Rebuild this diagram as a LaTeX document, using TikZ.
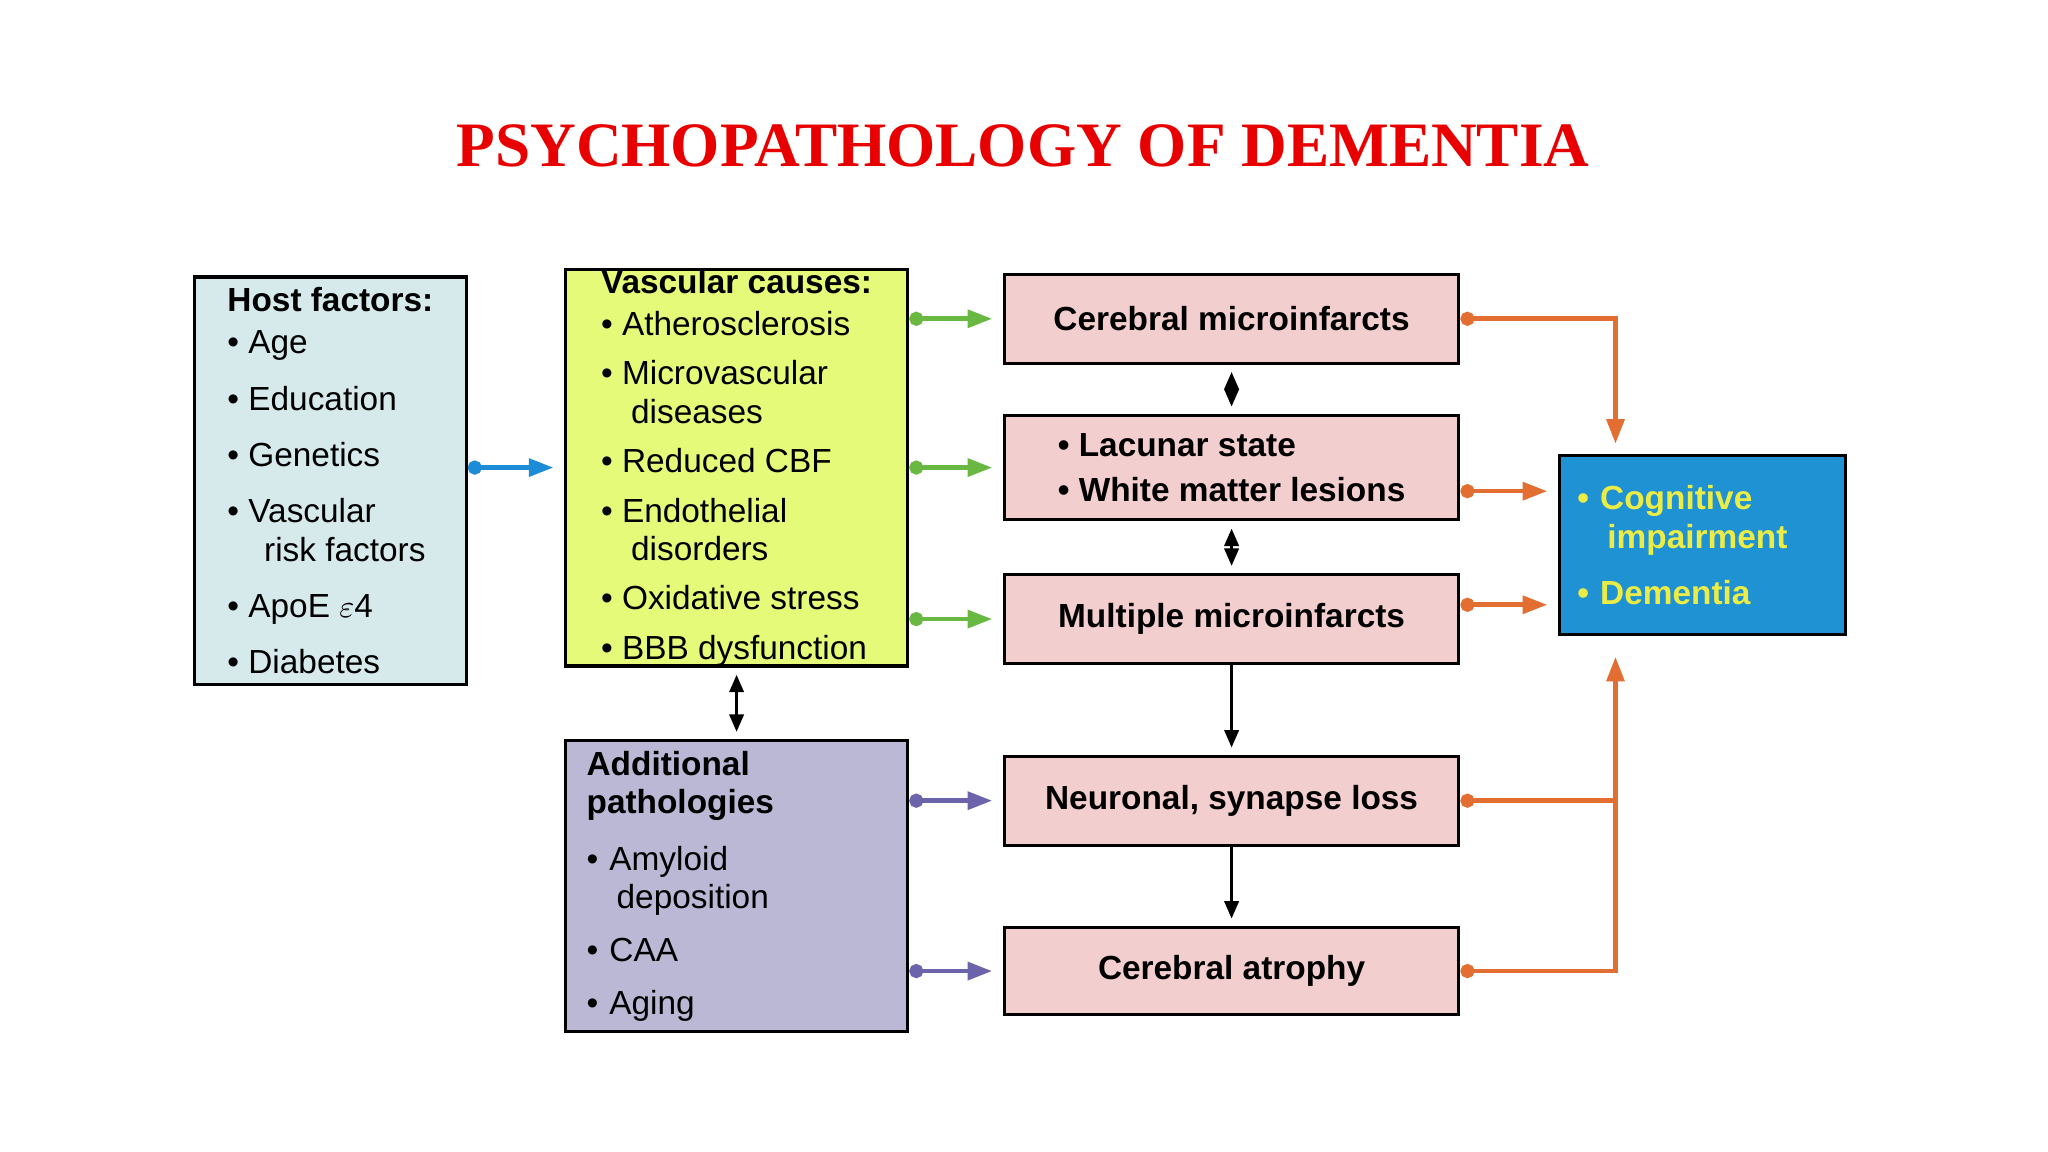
\documentclass[tikz,border=0pt]{standalone}
\usepackage{fontspec}
\setmainfont{Liberation Sans}
\newfontfamily\titlefont{Liberation Serif}
\usepackage{xcolor}
\usetikzlibrary{arrows.meta,positioning}
\definecolor{hostblue}{RGB}{214,234,236}
\definecolor{vasclime}{RGB}{228,250,120}
\definecolor{addlilac}{RGB}{186,184,212}
\definecolor{effectpink}{RGB}{243,206,206}
\definecolor{outcomeblue}{RGB}{30,146,210}
\definecolor{outcomeyellow}{RGB}{236,236,70}
\definecolor{arrowgreen}{RGB}{104,184,66}
\definecolor{arrowblue}{RGB}{28,140,214}
\definecolor{arrowpurple}{RGB}{108,100,170}
\definecolor{arroworange}{RGB}{226,110,50}
\definecolor{titlered}{RGB}{232,0,0}
\begin{document}
\begin{tikzpicture}[
                box/.style={rectangle, draw, line width=0.9pt, inner sep=0pt, align=left, font=\fontsize{9.5}{11}\selectfont},
                effect/.style={box, fill=effectpink, minimum width=4.545cm, align=center},
                link/.style={-{Triangle[length=7pt,width=5pt]}, line width=1.3pt, shorten >=3pt},
                dotlink/.style={{Circle[length=4pt]}-{Triangle[length=7pt,width=5pt]}, line width=1.3pt, shorten >=3pt},
                both/.style={{Triangle[length=5pt,width=4pt]}-{Triangle[length=5pt,width=4pt]}, line width=1pt, shorten >=2pt, shorten <=2pt},
                one/.style={-{Triangle[length=5pt,width=4pt]}, line width=1pt, shorten >=2pt}
            ]
                \useasboundingbox (0,0) rectangle (20.48,11.52);
                \node[font=\titlefont\bfseries\fontsize{18}{20}\selectfont, text=titlered] (title) at (10.23,10.06) {PSYCHOPATHOLOGY OF DEMENTIA};
                
                \node[box, fill=hostblue, minimum width=2.716cm, minimum height=4.075cm] (host) at (3.304,6.712) {\textbf{Host factors:}\\[1pt] \textbullet~Age\\[5pt] \textbullet~Education\\[5pt] \textbullet~Genetics\\[5pt] \textbullet~Vascular\\ \hspace*{1.1em}risk factors\\[5pt] \textbullet~ApoE $\varepsilon$4\\[5pt] \textbullet~Diabetes};
                \node[box, fill=vasclime, minimum width=3.422cm, minimum height=3.813cm] (vasc) at (7.366,6.843) {\textbf{Vascular causes:}\\[1pt] \textbullet~Atherosclerosis\\[3pt] \textbullet~Microvascular\\ \hspace*{0.9em}diseases\\[3pt] \textbullet~Reduced CBF\\[3pt] \textbullet~Endothelial\\ \hspace*{0.9em}disorders\\[3pt] \textbullet~Oxidative stress\\[3pt] \textbullet~BBB dysfunction};
                \node[box, fill=addlilac, minimum width=3.422cm, minimum height=2.912cm, text width=3.0cm] (add) at (7.366,2.658) {\textbf{Additional}\\ \textbf{pathologies}\\[5pt] \textbullet~Amyloid\\ \hspace*{0.9em}deposition\\[4pt] \textbullet~CAA\\[4pt] \textbullet~Aging};
                
                \node[effect, font=\bfseries\fontsize{9.5}{11}\selectfont, minimum height=0.888cm] (cer) at (12.316,8.332) {Cerebral microinfarcts};
                \node[effect, font=\bfseries\fontsize{9.5}{11}\selectfont, minimum height=1.045cm, align=left] (lac) at (12.316,6.844) {\textbullet~Lacunar state\\[2pt] \textbullet~White matter lesions};
                \node[effect, font=\bfseries\fontsize{9.5}{11}\selectfont, minimum height=0.889cm] (mult) at (12.316,5.329) {Multiple microinfarcts};
                \node[effect, font=\bfseries\fontsize{9.5}{11}\selectfont, minimum height=0.888cm] (neur) at (12.316,3.513) {Neuronal, synapse loss};
                \node[effect, font=\bfseries\fontsize{9.5}{11}\selectfont, minimum height=0.875cm] (atro) at (12.316,1.809) {Cerebral atrophy};
                
                \node[box, fill=outcomeblue, text=outcomeyellow, font=\bfseries\fontsize{9.5}{11}\selectfont, minimum width=2.86cm, minimum height=1.789cm, text width=2.5cm] (cog) at (17.024,6.067) {\textbullet~Cognitive\\ \hspace*{0.9em}impairment\\[5pt] \textbullet~Dementia};
                \coordinate (join) at (16.155,0);
                \coordinate (lacout) at ([yshift=-0.236cm]lac.east);
                \coordinate (multout) at ([yshift=0.143cm]mult.east);
                \coordinate (cogfoot) at ([yshift=-0.1cm]join |- cog.south);
                
                \draw[dotlink, arrowblue] (host.east |- lac.west) -- (vasc.west |- lac.west);
                \draw[dotlink, arrowgreen] (vasc.east |- cer.west) -- (cer.west);
                \draw[dotlink, arrowgreen] (vasc.east |- lac.west) -- (lac.west);
                \draw[dotlink, arrowgreen] (vasc.east |- mult.west) -- (mult.west);
                \draw[dotlink, arrowpurple] (add.east |- neur.west) -- (neur.west);
                \draw[dotlink, arrowpurple] (add.east |- atro.west) -- (atro.west);
                
                \draw[both] (cer.south) -- (lac.north);
                \draw[both] (lac.south) -- (mult.north);
                \draw[both] (vasc.south) -- (add.north);
                \draw[one] (mult.south) -- (neur.north);
                \draw[one] (neur.south) -- (atro.north);
                
                \draw[dotlink, arroworange] (cer.east) -| (join |- cog.north);
                \draw[dotlink, arroworange] (lacout) -- (cog.west |- lacout);
                \draw[dotlink, arroworange] (multout) -- (cog.west |- multout);
                \draw[dotlink, arroworange] (atro.east) -| (cogfoot);
                \draw[{Circle[length=4pt]}-, line width=1.3pt, arroworange] (neur.east) -- (join |- neur.east);
            \end{tikzpicture}
\end{document}
